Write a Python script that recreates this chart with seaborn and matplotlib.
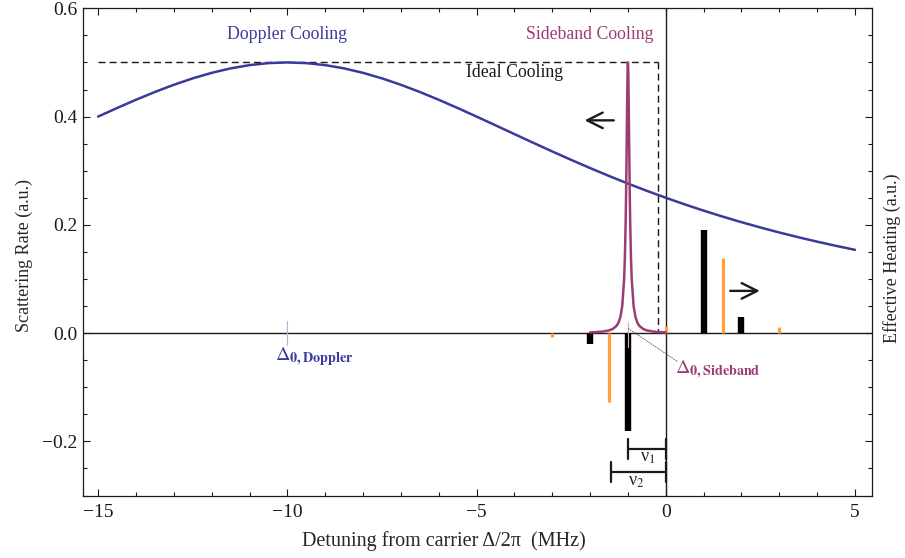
import matplotlib
matplotlib.use("Agg")
import matplotlib.pyplot as plt
import seaborn as sns
import pandas as pd
from matplotlib.ticker import MultipleLocator

# ---------------- data ----------------
doppler_x = [-15, -14.5, -14, -13.5, -13, -12.5, -12, -11.5, -11, -10.5, -10,
             -9.5, -9, -8.5, -8, -7.5, -7, -6.5, -6, -5.5, -5, -4.5, -4, -3.5,
             -3, -2.5, -2, -1.5, -1, -0.5, 0, 0.5, 1, 1.5, 2, 2.5, 3, 3.5, 4,
             4.5, 5]
doppler_y = [0.4, 0.4158, 0.43103, 0.44543, 0.45872, 0.47059, 0.48077, 0.489,
             0.49505, 0.49875, 0.5, 0.49875, 0.49505, 0.489, 0.48077, 0.47059,
             0.45872, 0.44543, 0.43103, 0.4158, 0.4, 0.38388, 0.36765,
             0.35149, 0.33557, 0.32, 0.30488, 0.29028, 0.27624, 0.26281, 0.25,
             0.23781, 0.22624, 0.21528, 0.20492, 0.19512, 0.18587, 0.17715,
             0.16892, 0.16116, 0.15385]

sideband_x = [-2.0, -1.7, -1.5, -1.4, -1.3, -1.25, -1.2, -1.15, -1.1, -1.08,
              -1.06, -1.05, -1.04, -1.03, -1.02, -1.01, -1.0, -0.99, -0.98,
              -0.97, -0.96, -0.95, -0.94, -0.92, -0.9, -0.85, -0.8, -0.75,
              -0.7, -0.6, -0.5, -0.3, 0.0]
sideband_y = [0.00125, 0.00254, 0.00495, 0.00769, 0.01351, 0.01923, 0.02941,
              0.05, 0.1, 0.1404, 0.2049, 0.25, 0.3049, 0.3676, 0.4310, 0.4808,
              0.5, 0.4808, 0.4310, 0.3676, 0.3049, 0.25, 0.2049, 0.1404, 0.1,
              0.05, 0.02941, 0.01923, 0.01351, 0.00769, 0.00495, 0.00254,
              0.00125]

black_x = [-2, -1, 1, 2]
black_h = [-0.021, -0.18, 0.191, 0.029]
orange_x = [-3, -1.5, 0, 1.5, 3]
orange_h = [-0.008, -0.128, 0.014, 0.139, 0.012]

ideal_level = 0.5
ideal_edge = -0.2
nu1_span = [-1.0, 0.0]
nu2_span = [-1.45, 0.0]

x_ticks = [-15, -10, -5, 0, 5]
y_ticks = [-0.2, 0.0, 0.2, 0.4, 0.6]

# ---------------- style ----------------
sns.set_theme(style="ticks")
plt.rcParams['font.family'] = ['Liberation Serif', 'DejaVu Serif']
plt.rcParams['mathtext.fontset'] = 'stix'

c_dop = '#3a3a9c'
c_sb = '#9c3c74'
c_or = '#ffa040'

fig = plt.figure(figsize=(9.05, 5.58), dpi=100)
ax = fig.add_axes([83 / 905, 1 - 495.5 / 558, (872 - 83) / 905, (495.5 - 8.3) / 558])

# axes lines
ax.axhline(0, color='k', lw=1.0, zorder=1)
ax.axvline(0, color='k', lw=1.0, zorder=1)

# ideal cooling dashed box
ax.plot([doppler_x[0], ideal_edge], [ideal_level, ideal_level], color='k',
        lw=1.0, dashes=(5, 3))
ax.plot([ideal_edge, ideal_edge], [ideal_level, 0], color='k', lw=1.0,
        dashes=(5, 3))

# bars
vb = ax.vlines(black_x, 0, black_h, color='black', lw=4.6, zorder=3)
vb.set_capstyle('butt')
vo = ax.vlines(orange_x, 0, orange_h, color=c_or, lw=2.3, zorder=3)
vo.set_capstyle('butt')

# curves
df_d = pd.DataFrame({'x': doppler_x, 'y': doppler_y})
df_s = pd.DataFrame({'x': sideband_x, 'y': sideband_y})
sns.lineplot(data=df_d, x='x', y='y', ax=ax, color=c_dop, lw=1.8, zorder=4)
sns.lineplot(data=df_s, x='x', y='y', ax=ax, color=c_sb, lw=1.8, zorder=4)

# markers for the Delta labels
ax.plot([-10, -10], [0.022, -0.022], color='#b4b4d2', lw=0.8)
ax.plot([-1, -1], [0.02, -0.025], color='#dba8c6', lw=0.8, zorder=5)
ax.plot([-1.0, 0.32], [0.009, -0.053], color='#555555', lw=0.6,
        dashes=(2, 1), zorder=5)

# arrows
ax.annotate('', xy=(-2.22, 0.393), xytext=(-1.3, 0.393),
            arrowprops=dict(arrowstyle='->', lw=1.7, color='k',
                            mutation_scale=28))
ax.annotate('', xy=(2.56, 0.078), xytext=(1.63, 0.078),
            arrowprops=dict(arrowstyle='->', lw=1.7, color='k',
                            mutation_scale=28))

# nu brackets
for span, yv, cap in [(nu1_span, -0.214, 0.018), (nu2_span, -0.257, 0.018)]:
    ax.plot(span, [yv, yv], color='k', lw=1.6)
    for xe in span:
        ax.plot([xe, xe], [yv - cap, yv + cap], color='k', lw=1.6)
ax.text(-0.48, -0.229, '\u03bd$_1$', ha='center', va='center', fontsize=13)
ax.text(-0.78, -0.274, '\u03bd$_2$', ha='center', va='center', fontsize=13)

# text labels
ax.text(-10.0, 0.552, 'Doppler Cooling', color=c_dop, ha='center',
        va='center', fontsize=12.8)
ax.text(-2.0, 0.552, 'Sideband Cooling', color=c_sb, ha='center',
        va='center', fontsize=12.8)
ax.text(-4.0, 0.481, 'Ideal Cooling', color='k', ha='center', va='center',
        fontsize=12.8)
ax.text(-9.3, -0.043, r'$\Delta_{\mathbf{0,Doppler}}$', color=c_dop,
        ha='center', va='center', fontsize=14.5)
ax.text(1.37, -0.068, r'$\Delta_{\mathbf{0,Sideband}}$', color=c_sb,
        ha='center', va='center', fontsize=14.5)

# axes limits & ticks
ax.set_xlim(-15.4, 5.45)
ax.set_ylim(-0.3, 0.6)
ax.set_xticks(x_ticks)
ax.set_xticklabels(['\u221215', '\u221210', '\u22125', '0', '5'])
ax.set_yticks(y_ticks)
ax.set_yticklabels(['\u22120.2', '0.0', '0.2', '0.4', '0.6'])
ax.xaxis.set_minor_locator(MultipleLocator(1))
ax.yaxis.set_minor_locator(MultipleLocator(0.05))
ax.tick_params(which='both', direction='in', top=True, right=True,
               labelsize=14, width=0.8, colors='k')
ax.tick_params(which='major', length=5)
ax.tick_params(which='minor', length=3)
ax.tick_params(axis='x', pad=6)
ax.tick_params(axis='y', pad=4)
for s in ax.spines.values():
    s.set_color('k')
    s.set_linewidth(0.9)

ax.set_xlabel('')
ax.set_ylabel('')
fig.text(444 / 905, 1 - 541 / 558, 'Detuning from carrier \u0394/2\u03c0  (MHz)',
         ha='center', va='center', fontsize=14.5)
fig.text(24 / 905, 1 - 255 / 558, 'Scattering Rate (a.u.)', rotation=90,
         ha='center', va='center', fontsize=13)
fig.text(892 / 905, 1 - 258 / 558, 'Effective Heating (a.u.)', rotation=90,
         ha='center', va='center', fontsize=13)

fig.savefig('out.png', dpi=100)
